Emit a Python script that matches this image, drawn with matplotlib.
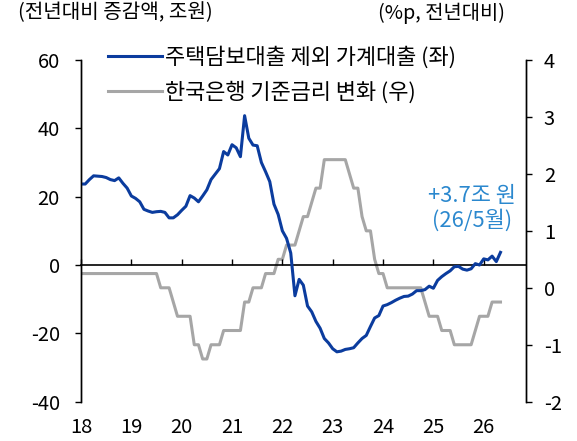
import matplotlib
matplotlib.use('Agg')
import numpy as np
import matplotlib.pyplot as plt
from matplotlib.lines import Line2D

plt.rcParams['font.family'] = ['Noto Sans CJK KR', 'DejaVu Sans']
plt.rcParams['axes.unicode_minus'] = False

START_YEAR = 18
YEAR_TICKS = [18, 19, 20, 21, 22, 23, 24, 25, 26]

# 주택담보대출 제외 가계대출, 전년대비 증감액 (조원), 월별 18/1 ~ 26/5
loan_ex_mortgage = [
    23.7, 23.7, 25.0, 26.1, 26.0, 25.9, 25.6, 25.0, 24.7, 25.5, 23.9, 22.5,   # 18
    20.2, 19.5, 18.5, 16.3, 15.8, 15.4, 15.6, 15.7, 15.4, 13.8, 13.8, 14.7,   # 19
    16.0, 17.2, 20.3, 19.6, 18.5, 20.2, 22.0, 25.0, 26.6, 28.2, 33.2, 32.2,   # 20
    35.2, 34.3, 31.7, 43.7, 37.1, 35.1, 34.9, 30.0, 27.3, 24.4, 17.8, 14.8,   # 21
    10.0, 7.8, 3.5, -9.0, -4.2, -5.9, -12.0, -13.7, -16.5, -18.5, -21.5, -22.8,  # 22
    -24.5, -25.4, -25.2, -24.7, -24.5, -24.2, -22.8, -21.5, -20.6, -18.0, -15.5, -14.8,  # 23
    -12.0, -11.6, -11.0, -10.3, -9.7, -9.2, -9.1, -8.5, -7.5, -7.5, -7.2, -6.2,  # 24
    -6.8, -4.5, -3.4, -2.5, -1.7, -0.5, -0.4, -1.2, -1.5, -1.1, 0.4, 0.0,    # 25
    1.8, 1.5, 2.6, 1.0, 3.7,                                                 # 26
]

# 한국은행 기준금리 전년대비 변화 (%p)
base_rate_change = [
    0.25, 0.25, 0.25, 0.25, 0.25, 0.25, 0.25, 0.25, 0.25, 0.25, 0.25, 0.25,
    0.25, 0.25, 0.25, 0.25, 0.25, 0.25, 0.25, 0.0, 0.0, 0.0, -0.25, -0.5,
    -0.5, -0.5, -0.5, -1.0, -1.0, -1.25, -1.25, -1.0, -1.0, -1.0, -0.75, -0.75,
    -0.75, -0.75, -0.75, -0.25, -0.25, 0.0, 0.0, 0.0, 0.25, 0.25, 0.25, 0.5,
    0.5, 0.75, 0.75, 0.75, 1.0, 1.25, 1.25, 1.5, 1.75, 1.75, 2.25, 2.25,
    2.25, 2.25, 2.25, 2.25, 2.0, 1.75, 1.75, 1.25, 1.0, 1.0, 0.5, 0.25,
    0.25, 0.0, 0.0, 0.0, 0.0, 0.0, 0.0, 0.0, 0.0, 0.0, -0.25, -0.5,
    -0.5, -0.5, -0.75, -0.75, -0.75, -1.0, -1.0, -1.0, -1.0, -1.0, -0.75, -0.5,
    -0.5, -0.5, -0.25, -0.25, -0.25,
]

BLUE = '#0B3C9E'
GRAY = '#A6A6A6'
NOTE = '#2B88CE'


def main():
    months = np.arange(len(loan_ex_mortgage))
    x = START_YEAR + months / 12

    fig = plt.figure(figsize=(5.77, 4.41), dpi=100)
    ax = fig.add_axes([0.1404, 0.0891, 0.7712, 0.7749])
    ax2 = ax.twinx()
    ax.set_zorder(ax2.get_zorder() + 1)
    ax.patch.set_visible(False)

    ax2.plot(x, base_rate_change, color=GRAY, lw=2.2)
    ax.plot(x, loan_ex_mortgage, color=BLUE, lw=2.2)

    ax.set_xlim(18, 26.84)
    ax.set_ylim(-40, 60)
    ax2.set_ylim(-2, 4)
    ax.set_yticks([-40, -20, 0, 20, 40, 60])
    ax2.set_yticks([-2, -1, 0, 1, 2, 3, 4])

    for a in (ax, ax2):
        a.spines['top'].set_visible(False)
        a.spines['bottom'].set_visible(False)
        a.spines['left'].set_linewidth(1.0)
        a.spines['right'].set_linewidth(1.0)

    ax.set_xticks(YEAR_TICKS)
    ax.set_xticklabels([str(y) for y in YEAR_TICKS])
    ax.tick_params(axis='x', length=0, pad=11, labelsize=14.5)
    ax.tick_params(axis='y', direction='out', length=4.3, width=1, pad=11, labelsize=14.5)
    ax2.tick_params(axis='y', direction='out', length=4.3, width=1, pad=8.5, labelsize=14.5)

    # 0 기준선 (연도 눈금은 안쪽 위로)
    zero = ax.secondary_xaxis(0.4)
    zero.set_xticks(YEAR_TICKS)
    zero.tick_params(direction='in', length=4, width=1, labelbottom=False)
    zero.spines['bottom'].set_linewidth(1.2)

    ax.text(25.76, 16.7, '+3.7조 원\n(26/5월)', color=NOTE, fontsize=15.8,
            ha='center', va='center', linespacing=1.12)

    handles = [
        Line2D([], [], color=BLUE, lw=2.2),
        Line2D([], [], color=GRAY, lw=2.2),
    ]
    ax.legend(handles, ['주택담보대출 제외 가계대출 (좌)', '한국은행 기준금리 변화 (우)'],
              loc='upper left', bbox_to_anchor=(108 / 577, 1 - 46 / 441),
              bbox_transform=fig.transFigure, frameon=False, borderpad=0,
              borderaxespad=0, fontsize=15.8, handlelength=2.45,
              handletextpad=0.15, labelspacing=0.58)

    fig.text(18 / 577, 1 - 13 / 441, '(전년대비 증감액, 조원)', fontsize=14.5,
             ha='left', va='center')
    fig.text(505 / 577, 1 - 13 / 441, '(%p, 전년대비)', fontsize=14.3,
             ha='right', va='center')

    fig.savefig('out.png', dpi=100)


if __name__ == '__main__':
    main()
